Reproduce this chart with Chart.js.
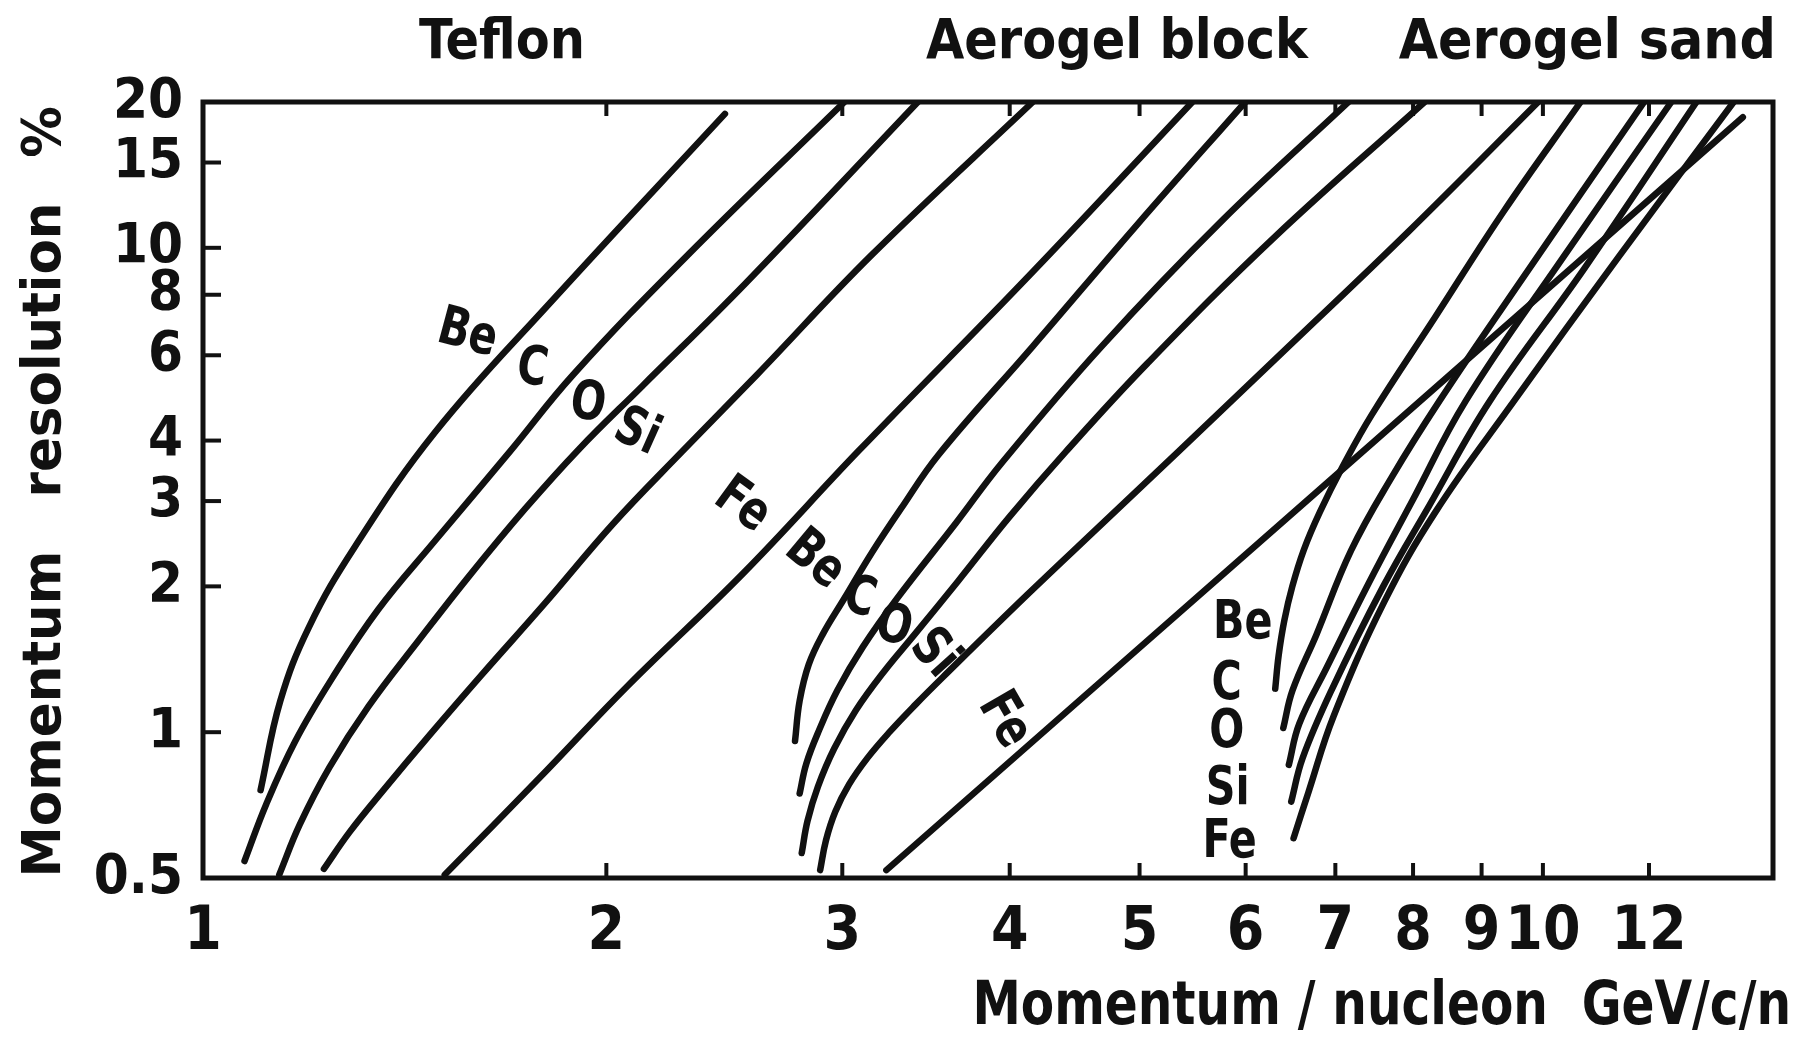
<!DOCTYPE html>
<html>
<head>
<meta charset="utf-8">
<script src="https://cdn.jsdelivr.net/npm/chart.js@4.4.1/dist/chart.umd.min.js"></script>
<style>
  html, body { margin: 0; padding: 0; background: #fff; }
  #wrap { width: 1800px; height: 1042px; }
</style>
</head>
<body>
<div id="wrap"><canvas id="chart" width="1800" height="1042"></canvas></div>
<script>
// tick values on both log axes
const xTicks = [1, 2, 3, 4, 5, 6, 7, 8, 9, 10, 12];
const yTicks = [0.5, 1, 2, 3, 4, 6, 8, 10, 15, 20];

// Teflon radiator: [momentum/nucleon, resolution %]
const teflonBe = [[1.104,0.759],[1.142,1.16],[1.200,1.65],[1.299,2.42],[1.491,4.17],[1.816,7.70],[2.452,18.9]];
const teflonC  = [[1.074,0.542],[1.115,0.711],[1.172,0.959],[1.248,1.29],[1.351,1.79],[1.491,2.49],[1.695,3.80],[1.889,5.47],[2.302,9.68],[3.011,20]];
const teflonO  = [[1.140,0.508],[1.181,0.645],[1.243,0.847],[1.329,1.13],[1.447,1.54],[1.582,2.11],[1.739,2.89],[1.908,3.84],[2.127,5.18],[2.541,8.45],[3.416,20]];
const teflonSi = [[1.231,0.522],[1.286,0.621],[1.364,0.760],[1.476,0.986],[1.613,1.31],[1.798,1.84],[2.025,2.70],[2.279,3.80],[2.591,5.47],[3.157,9.68],[4.162,20]];
const teflonFe = [[1.515,0.508],[1.781,0.802],[2.077,1.25],[2.531,2.13],[3.083,3.80],[4.162,8.92],[5.475,20]];

// Aerogel block
const blockBe = [[2.766,0.959],[2.788,1.161],[2.832,1.38],[2.900,1.59],[3.011,1.89],[3.157,2.35],[3.317,2.89],[3.540,3.74],[4.162,6.26],[4.971,11.1],[5.996,20]];
const blockC  = [[2.788,0.747],[2.820,0.861],[2.883,1.01],[2.975,1.22],[3.108,1.50],[3.297,1.89],[3.646,2.70],[3.947,3.60],[4.685,6.26],[5.764,11.39],[7.161,20]];
const blockO  = [[2.798,0.563],[2.826,0.656],[2.877,0.772],[2.958,0.924],[3.071,1.11],[3.220,1.33],[3.396,1.59],[3.660,2.05],[4.001,2.79],[4.407,3.80],[5.070,5.78],[6.30,10.5],[8.160,20]];
const blockSi = [[2.888,0.519],[2.917,0.598],[2.964,0.685],[3.035,0.780],[3.132,0.884],[3.253,1.00],[3.402,1.14],[3.567,1.30],[4.121,1.92],[4.713,2.73],[5.347,3.80],[6.426,6.17],[7.937,10.8],[9.92,20]];
const blockFe = [[3.236,0.519],[6.750,3.10],[14.10,18.6]];

// Aerogel sand
const sandBe = [[6.313,1.23],[6.350,1.44],[6.412,1.70],[6.501,2.00],[6.631,2.38],[6.817,2.85],[7.090,3.54],[7.451,4.52],[8.306,7.18],[9.35,11.9],[10.67,20]];
const sandC  = [[6.401,1.02],[6.503,1.22],[6.776,1.59],[7.191,2.37],[7.707,3.35],[8.372,4.83],[9.535,8.22],[11.90,20]];
const sandO  = [[6.462,0.856],[6.579,1.041],[6.897,1.36],[7.406,2.02],[7.983,2.99],[8.759,4.83],[10.32,9.43],[12.47,20]];
const sandSi = [[6.489,0.719],[6.617,0.884],[6.953,1.22],[7.600,2.00],[8.222,2.93],[9.13,4.83],[10.74,9.07],[13.02,20]];
const sandFe = [[6.515,0.604],[6.683,0.751],[6.980,1.08],[7.615,1.86],[8.322,2.86],[9.517,4.83],[11.39,9.58],[13.88,20]];

const series = [teflonBe, teflonC, teflonO, teflonSi, teflonFe,
                blockBe, blockC, blockO, blockSi, blockFe,
                sandBe, sandC, sandO, sandSi, sandFe];

// curve names and where they are written (data units)
const curveNames = ['Be', 'C', 'O', 'Si', 'Fe', 'Be', 'C', 'O', 'Si', 'Fe', 'Be', 'C', 'O', 'Si', 'Fe'];
const nameX = [1.575, 1.760, 1.937, 2.107, 2.525, 2.860, 3.090, 3.276, 3.509, 3.959, 5.970, 5.808, 5.808, 5.818, 5.837];
const nameY = [6.61, 5.60, 4.74, 4.14, 2.93, 2.26, 1.88, 1.64, 1.45, 1.057, 1.67, 1.25, 0.994, 0.759, 0.590];
const nameTilt = [15, 10, 10, 24, 36, 40, 16, 16, 48, 60, 0, 0, 0, 0, 0];

const radiators = ['Teflon', 'Aerogel block', 'Aerogel sand'];

const FONT = '"DejaVu Sans Condensed", "DejaVu Sans", sans-serif';
const INK = '#111';

// narrow, tall lettering like the drawing stencil
function stencil(ctx, text, px, py, size, squeeze, angle, align, base) {
    ctx.save();
    ctx.translate(px, py);
    ctx.rotate(angle);
    ctx.scale(squeeze, 1);
    ctx.font = 'bold ' + size + 'px ' + FONT;
    ctx.textAlign = align;
    ctx.textBaseline = base;
    ctx.fillText(text, 0, 0);
    ctx.restore();
}

const decor = {
    id: 'decor',
    afterDraw(chart) {
        const { ctx, chartArea: a, scales } = chart;
        const x = scales.x, y = scales.y;
        ctx.save();

        // frame
        ctx.strokeStyle = INK;
        ctx.lineWidth = 5;
        ctx.strokeRect(a.left, a.top, a.right - a.left, a.bottom - a.top);

        // inward tick marks
        ctx.lineWidth = 4;
        yTicks.slice(1, -1).forEach(v => {
            const py = y.getPixelForValue(v);
            ctx.beginPath(); ctx.moveTo(a.left, py); ctx.lineTo(a.left + 18, py); ctx.stroke();
        });
        xTicks.slice(1).forEach(v => {
            const px = x.getPixelForValue(v);
            ctx.beginPath(); ctx.moveTo(px, a.bottom); ctx.lineTo(px, a.bottom - 15); ctx.stroke();
            ctx.beginPath(); ctx.moveTo(px, a.top); ctx.lineTo(px, a.top + 14); ctx.stroke();
        });

        ctx.fillStyle = INK;

        // radiator names above the frame
        stencil(ctx, radiators[0], 502, 58, 55, 1, 0, 'center', 'alphabetic');
        stencil(ctx, radiators[1], 1117, 58, 55, 1, 0, 'center', 'alphabetic');
        stencil(ctx, radiators[2], 1776, 58, 56, 1.01, 0, 'right', 'alphabetic');

        // axis titles
        stencil(ctx, 'Momentum / nucleon  GeV/c/n', 1791, 1024, 60, 0.9, 0, 'right', 'alphabetic');
        const up = -Math.PI / 2;
        stencil(ctx, 'Momentum', 60, 714, 54, 1.06, up, 'center', 'alphabetic');
        stencil(ctx, 'resolution', 60, 350, 54, 1.06, up, 'center', 'alphabetic');
        stencil(ctx, '%', 60, 132, 54, 1.06, up, 'center', 'alphabetic');

        // curve names
        curveNames.forEach((t, i) => {
            stencil(ctx, t, x.getPixelForValue(nameX[i]), y.getPixelForValue(nameY[i]),
                    54, 0.85, nameTilt[i] * Math.PI / 180, 'center', 'middle');
        });
        ctx.restore();
    }
};

new Chart(document.getElementById('chart'), {
    type: 'scatter',
    data: {
        datasets: series.map(pts => ({
            data: pts.map(p => ({ x: p[0], y: p[1] })),
            showLine: true,
            borderColor: INK,
            borderWidth: 6.5,
            borderCapStyle: 'round',
            borderJoinStyle: 'round',
            pointRadius: 0,
            tension: 0.4
        }))
    },
    options: {
        responsive: false,
        animation: false,
        devicePixelRatio: 1,
        layout: { padding: { top: 102, right: 27, left: 0, bottom: 0 } },
        plugins: { legend: { display: false }, tooltip: { enabled: false } },
        scales: {
            x: {
                type: 'logarithmic',
                min: 1,
                max: 14.85,
                grid: { display: false },
                border: { display: false },
                afterBuildTicks: s => { s.ticks = xTicks.map(v => ({ value: v })); },
                afterFit: s => { s.height = 164; },
                ticks: {
                    autoSkip: false,
                    maxRotation: 0,
                    padding: 11,
                    color: INK,
                    font: { family: FONT, size: 60, weight: 'bold' },
                    callback: v => String(v)
                }
            },
            y: {
                type: 'logarithmic',
                min: 0.5,
                max: 20,
                grid: { display: false },
                border: { display: false },
                afterBuildTicks: s => { s.ticks = yTicks.map(v => ({ value: v })); },
                afterFit: s => { s.width = 203; },
                ticks: {
                    autoSkip: false,
                    padding: 12,
                    color: INK,
                    font: { family: FONT, size: 56, weight: 'bold' },
                    callback: v => String(v)
                }
            }
        }
    },
    plugins: [decor]
});
</script>
</body>
</html>
